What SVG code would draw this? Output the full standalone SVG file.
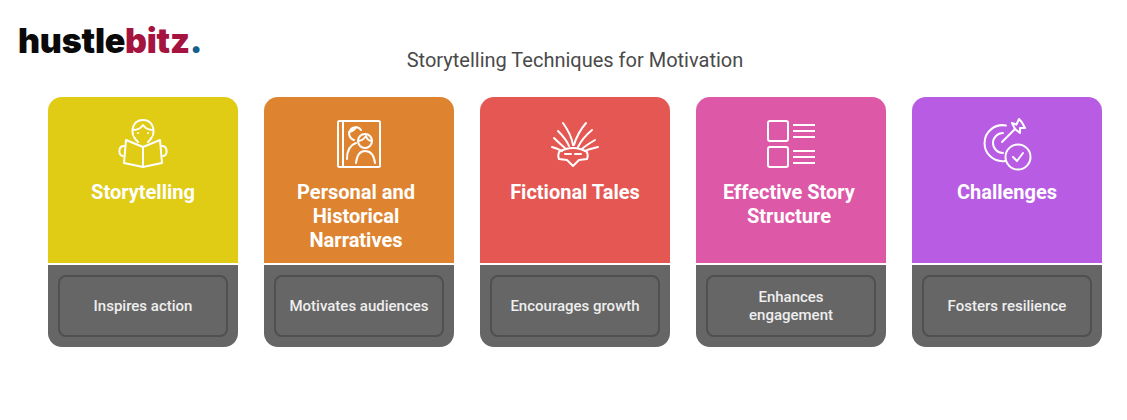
<svg xmlns="http://www.w3.org/2000/svg" width="1127" height="420" viewBox="0 0 1127 420">
<defs>
<path id="card" d="M0 166V14A14 14 0 0 1 14 0H176A14 14 0 0 1 190 14V166Z"/>
<path id="base" d="M0 168H190V236A14 14 0 0 1 176 250H14A14 14 0 0 1 0 236Z"/>
</defs>
<style>
text{font-family:Roboto,"Liberation Sans",sans-serif}
.h{font-size:20px;font-weight:700;fill:#fff;text-anchor:middle}
.s{font-size:15px;font-weight:500;fill:#eee;text-anchor:middle}
.b{fill:#666}
.i{fill:none;stroke:#505050;stroke-width:2}
.ic{fill:none;stroke:#fff;stroke-width:2;stroke-linecap:round;stroke-linejoin:round}
.logo{font-family:Inter,"Liberation Sans",sans-serif;font-size:34px;font-weight:900;letter-spacing:-.25px}
</style>
<rect width="1127" height="420" fill="#fff"/>
<g id="logo"><text x="18" y="53" class="logo"><tspan fill="#0a0a0a">hustle</tspan><tspan fill="#a5143f">bitz</tspan><tspan fill="#14608c">.</tspan></text></g>
<text id="title" x="575" y="67" text-anchor="middle" font-size="20" fill="#4a4a4a">Storytelling Techniques for Motivation</text>

<g id="node-storytelling" transform="translate(48 97)">
<use href="#card" fill="#E0CB15"/><use href="#base" class="b"/><rect class="i" x="11" y="179" width="168" height="60" rx="7"/>
<g class="ic"><path d="M85 38C83 30 87 23 95 23C103 23 107 30 105 38M85 33C90 33 93 31 95 28C97 31 100 33 105 33M86 40C87 42 88 43 90 45M104 40C103 42 102 43 100 45"/>
<path d="M95 50L78 43L76 66L95 70L114 66L112 43L95 50V70"/><path d="M76 49C70 49 70 59 75 59M114 49C120 49 120 59 115 59"/></g>
<circle cx="90" cy="36" r="1" fill="#fff"/><circle cx="100" cy="36" r="1" fill="#fff"/>
<text class="h" x="95" y="102">Storytelling</text><text class="s" x="95" y="214">Inspires action</text></g>

<g id="node-personal" transform="translate(264 97)">
<use href="#card" fill="#DE8431"/><use href="#base" class="b"/><rect class="i" x="11" y="179" width="168" height="60" rx="7"/>
<g class="ic"><rect x="74" y="24" width="42" height="46" rx="1.500"/><path d="M79 24V70"/>
<path d="M97 33A6.500 6.500 0 1 0 90 43M85 35C89 34 91 32 92 30M83 62C83 53 86 48 92 46"/>
<circle cx="101" cy="44" r="7"/><path d="M94 44C98 44 100 42 102 39C103 42 105 44 108 44"/>
<path d="M92 66C93 58 96 54 101 54C106 54 110 58 111 66"/></g>
<text class="h" x="92" y="102">Personal and</text><text class="h" x="92" y="126">Historical</text><text class="h" x="92" y="150">Narratives</text><text class="s" x="95" y="214">Motivates audiences</text></g>

<g id="node-fictional" transform="translate(480 97)">
<use href="#card" fill="#E55753"/><use href="#base" class="b"/><rect class="i" x="11" y="179" width="168" height="60" rx="7"/>
<g class="ic"><path d="M79 55C84 52 88 51 93 51C98 51 102 52 107 55C108 58 108 60 107 62L99 63L93 69L87 63L79 62C78 60 78 58 79 55Z"/>
<path d="M85 57H91M95 57H101"/>
<path d="M83 26C88 33 92 41 93 48M106 26C100 33 96 41 94 48M78 34C83 39 87 44 89 49M112 33C106 38 101 44 98 50M74 41C79 46 83 49 86 52M115 43C110 46 105 49 102 52M72 50C76 51 80 53 82 54M118 50C114 51 109 52 105 54"/></g>
<text class="h" x="95" y="102">Fictional Tales</text><text class="s" x="95" y="214">Encourages growth</text></g>

<g id="node-structure" transform="translate(696 97)">
<use href="#card" fill="#DE58A8"/><use href="#base" class="b"/><rect class="i" x="11" y="179" width="168" height="60" rx="7"/>
<g class="ic"><rect x="72" y="24" width="20" height="20" rx="2"/><rect x="72" y="50" width="20" height="20" rx="2"/><path d="M97 28H119M97 34H119M97 40H119M97 54H119M97 60H119M97 66H119" stroke-linecap="butt"/></g>
<text class="h" x="93" y="102">Effective Story</text><text class="h" x="93" y="126">Structure</text><text class="s" x="95" y="205">Enhances</text><text class="s" x="95" y="223">engagement</text></g>

<g id="node-challenges" transform="translate(912 97)">
<use href="#card" fill="#B75CE3"/><use href="#base" class="b"/><rect class="i" x="11" y="179" width="168" height="60" rx="7"/>
<g class="ic"><path d="M94 28.500A18 18 0 1 0 93 64M91 36A10 10 0 1 0 91 56"/><path d="M90 45L103 32"/><path d="M103 32L100 26L104.500 27.500L107 22L110 25.500L113 31L108 31L108 36L103 32Z"/>
<circle cx="106" cy="60" r="12.500"/><path d="M101 60L105 64L111 56"/></g>
<text class="h" x="95" y="102">Challenges</text><text class="s" x="95" y="214">Fosters resilience</text></g>
<g id="connectors"/>
</svg>
